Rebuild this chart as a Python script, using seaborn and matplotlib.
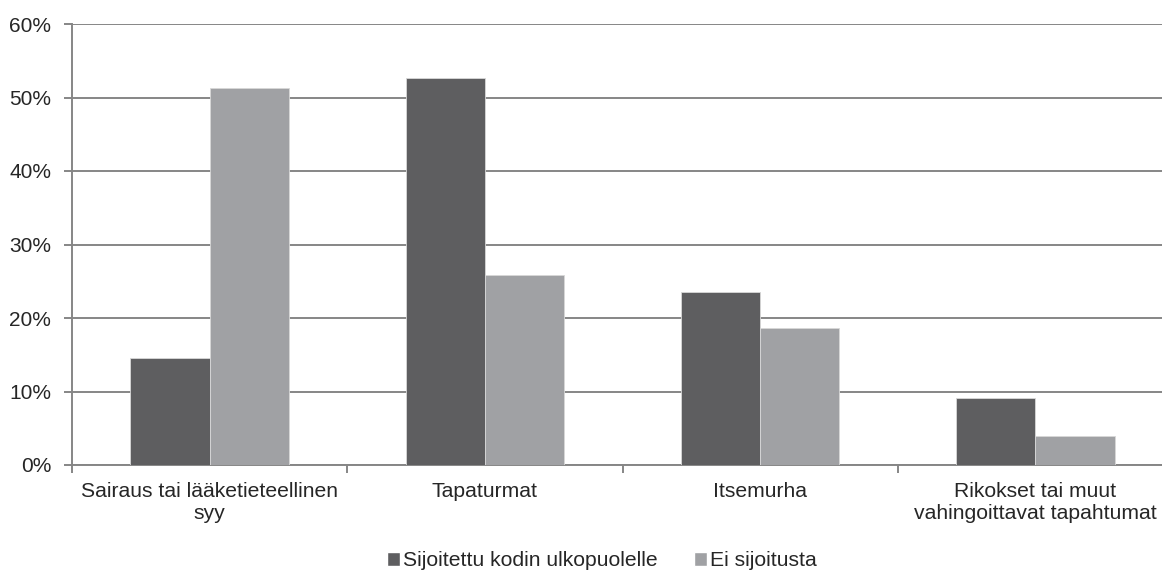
import matplotlib
matplotlib.use("Agg")
import matplotlib.pyplot as plt
import seaborn as sns
import pandas as pd
from matplotlib.patches import Patch
from matplotlib.ticker import FuncFormatter, FixedLocator

categories = ["Sairaus tai lääketieteellinen\nsyy", "Tapaturmat", "Itsemurha",
              "Rikokset tai muut\nvahingoittavat tapahtumat"]
series_names = ["Sijoitettu kodin ulkopuolelle", "Ei sijoitusta"]
placed = [14.5, 52.7, 23.6, 9.1]
not_placed = [51.3, 25.9, 18.7, 4.0]
colors = ["#5e5e60", "#a0a1a4"]

rows = []
for c, v in zip(categories, placed):
    rows.append({"cat": c, "series": series_names[0], "val": v})
for c, v in zip(categories, not_placed):
    rows.append({"cat": c, "series": series_names[1], "val": v})
df = pd.DataFrame(rows)

sns.set_style("white")
plt.rcParams['font.family'] = ['Liberation Sans', 'DejaVu Sans']

fig = plt.figure(figsize=(11.62, 5.72), dpi=100)
ax = fig.add_axes([72/1162, 1-465/572, (1173-72)/1162, (465-24)/572])

sns.barplot(data=df, x="cat", y="val", hue="series", order=categories,
            hue_order=series_names, palette=colors, width=0.575, ax=ax,
            saturation=1, edgecolor="#d8d8d8", linewidth=0.6, legend=False, zorder=3)

ax.set_xlim(-0.5, 3.5)
ax.set_ylim(0, 60)
ax.set_yticks(range(0, 61, 10))
ax.yaxis.set_major_formatter(FuncFormatter(lambda v, p: f"{int(v)}%"))
ax.grid(axis="y", color="#868686", linewidth=1.4, zorder=0)
ax.set_axisbelow(True)
for s in ["top", "right"]:
    ax.spines[s].set_visible(False)
for s in ["left", "bottom"]:
    ax.spines[s].set_color("#868686")
    ax.spines[s].set_linewidth(1.4)
ax.set_xlabel("")
ax.set_ylabel("")
ax.tick_params(axis="y", which="major", length=6, color="#868686", width=1.4,
               labelsize=15, pad=9, left=True, direction="out")
ax.tick_params(axis="x", which="major", length=0, labelsize=15.2, pad=12)
ax.xaxis.set_minor_locator(FixedLocator([-0.5, 0.5, 1.5, 2.5, 3.5]))
ax.tick_params(axis="x", which="minor", length=6, color="#868686", width=1.4,
               bottom=True, direction="out")
for lbl in ax.get_xticklabels():
    lbl.set_linespacing(1.2)

handles = [Patch(facecolor=colors[0]), Patch(facecolor=colors[1])]
fig.legend(handles, series_names, loc="center", bbox_to_anchor=(602/1162, 1-561/572),
           ncol=2, frameon=False, fontsize=15.2, handlelength=0.6, handleheight=0.6,
           handletextpad=0.15, columnspacing=1.75, borderaxespad=0)

fig.savefig("out.png", dpi=100)
